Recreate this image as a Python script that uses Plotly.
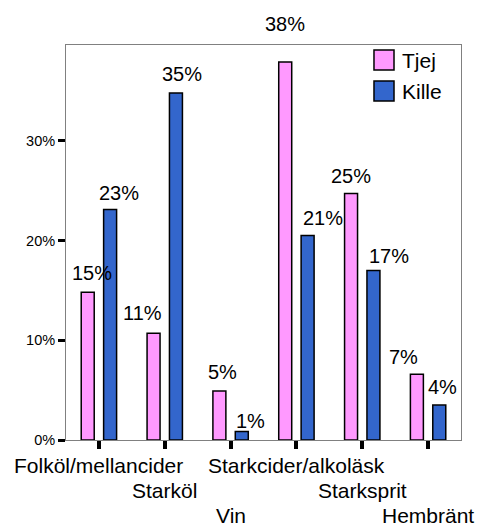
import math
import plotly.graph_objects as go

# ---- data ----
categories = ["Folköl/mellancider", "Starköl", "Vin", "Starkcider/alkoläsk", "Starksprit", "Hembränt"]
tjej = [14.8, 10.7, 4.9, 37.9, 24.7, 6.6]
kille = [23.1, 34.8, 0.84, 20.5, 17.0, 3.5]
series_names = ["Tjej", "Kille"]
y_ticks = [0, 10, 20, 30]
y_tick_labels = ["0%", "10%", "20%", "30%"]

# ---- style ----
FONT = "Liberation Sans, Arial, sans-serif"
colors = ["#FF99FF", "#3366CC"]
bar_offset_px = [-11.2, 11.2]
# label nudges (pixels) relative to bar centre / bar top
label_dx = [[4, -11, 3, 0, 0, -13], [9, 6, 9, 15, 16, 3]]
label_dy = [[19, 20, 19, 38, 18, 17], [17, 19, 11, 18, 14, 18]]


def pct(v):
    return f"{int(math.floor(v + 0.5))}%"


fig = go.Figure()
for name, vals, col in zip(series_names, [tjej, kille], colors):
    fig.add_trace(go.Bar(
        x=categories, y=vals, name=name,
        marker=dict(color=col, line=dict(color="black", width=1.5)),
        showlegend=False, hoverinfo="skip",
    ))

annotations = []
for s, vals in enumerate([tjej, kille]):
    for i, v in enumerate(vals):
        annotations.append(dict(
            x=categories[i], y=v, xref="x", yref="y",
            text=pct(v), showarrow=False,
            xanchor="center", yanchor="middle",
            xshift=bar_offset_px[s] + label_dx[s][i], yshift=label_dy[s][i],
            font=dict(family=FONT, size=20, color="black"),
        ))

# staggered category labels
for i, c in enumerate(categories):
    r = i % 3
    annotations.append(dict(
        x=c, y=0, xref="x", yref="paper", text=c, showarrow=False,
        xanchor="center", yanchor="middle", yshift=-(25 + r * 25),
        font=dict(family=FONT, size=21, color="black"),
    ))

# manual legend
shapes = []
legend_rows = [(0.9367, 0.9873, 0.962), (0.8582, 0.9089, 0.8835)]
for (y0, y1, yt), name, col in zip(legend_rows, series_names, colors):
    shapes.append(dict(type="rect", xref="paper", yref="paper",
                       x0=0.7797, x1=0.8304, y0=y0, y1=y1,
                       fillcolor=col, line=dict(color="black", width=1.5)))
    annotations.append(dict(x=0.8456, y=yt, xref="paper", yref="paper",
                            text=name, showarrow=False, xanchor="left", yanchor="middle",
                            font=dict(family=FONT, size=21, color="black")))

fig.update_layout(
    width=480, height=526,
    margin=dict(l=66, r=19, t=45, b=86, pad=0),
    paper_bgcolor="white", plot_bgcolor="white",
    barmode="group", bargap=0.32, bargroupgap=0.42,
    font=dict(family=FONT, color="black"),
    annotations=annotations, shapes=shapes,
    xaxis=dict(
        type="category", range=[-0.5, 5.5], showticklabels=False,
        ticks="outside", ticklen=8, tickwidth=4, tickcolor="black",
        showline=True, linecolor="#808080", linewidth=1, mirror=True,
        showgrid=False, zeroline=False, fixedrange=True,
    ),
    yaxis=dict(
        range=[0, 39.6], tickvals=y_ticks, ticktext=y_tick_labels,
        ticks="outside", ticklen=7, tickwidth=3, tickcolor="black",
        tickfont=dict(family=FONT, size=14.5, color="black"),
        showline=True, linecolor="#808080", linewidth=1, mirror=True,
        showgrid=False, zeroline=False, fixedrange=True,
    ),
)

fig.write_html("out.html", config={"displayModeBar": False},
               post_script="document.body.style.margin='0';")
